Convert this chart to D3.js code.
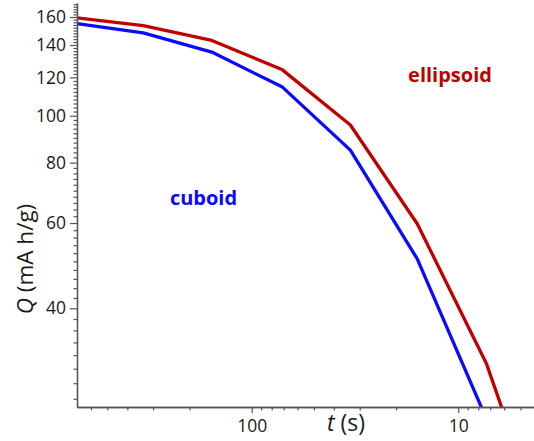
<!DOCTYPE html>
<html>
<head>
<meta charset="utf-8">
<script src="https://cdn.jsdelivr.net/npm/d3@7"></script>
<style>
  body { margin: 0; background: #fff; }
  text { font-family: "Open Sans", sans-serif; }
</style>
</head>
<body>
<div id="chart"></div>
<script>
// discharge time t (s), shared by both series
const times = [701, 335, 156, 71, 33.3, 15.8, 7.3, 3.6];
const ellipsoidQ = [159.3, 153.6, 143.1, 124.4, 95.7, 59.8, 30.7, 12.9];
const cuboidQ = [155.0, 148.3, 135.4, 114.6, 84.9, 50.6, 23.6];

const yTickLabels = [40, 60, 80, 100, 120, 140, 160];
const yMinorTicks = d3.range(26, 172, 2).filter(v => !yTickLabels.includes(v));
const xTickLabels = [100, 10];
const xMinorTicks = [600, 500, 400, 300, 200, 90, 80, 70, 60, 50, 40, 30, 20, 9, 8, 7, 6, 5];

const width = 534;
const height = 441;
const plot = { left: 77, right: 534, top: 3, bottom: 407 };

const redColor = "#c00000";
const blueColor = "#0a0aff";
const axisColor = "#555";

const xScale = d3.scaleLog().domain([701, 4.3]).range([plot.left, plot.right]);
const yScale = d3.scaleLog().domain([25, 171]).range([plot.bottom, plot.top]);

const svg = d3.select("#chart")
    .append("svg")
    .attr("width", width)
    .attr("height", height);

svg.append("clipPath")
    .attr("id", "plot-clip")
    .append("rect")
    .attr("x", plot.left)
    .attr("y", plot.top)
    .attr("width", plot.right - plot.left)
    .attr("height", plot.bottom - plot.top);

const series = [
    { name: "ellipsoid", color: redColor, values: ellipsoidQ },
    { name: "cuboid", color: blueColor, values: cuboidQ }
];

const line = d3.line()
    .x(d => xScale(d.t))
    .y(d => yScale(d.q));

svg.append("g")
    .attr("clip-path", "url(#plot-clip)")
    .selectAll("path")
    .data(series)
    .join("path")
    .attr("fill", "none")
    .attr("stroke", d => d.color)
    .attr("stroke-width", 3.3)
    .attr("stroke-linejoin", "round")
    .attr("d", d => line(d.values.map((q, i) => ({ t: times[i], q }))));

// minor ticks first, then the labelled axes on top
const styleAxis = (g) => {
    g.select(".domain").attr("stroke", axisColor).attr("stroke-width", 1.3);
    g.selectAll(".tick line").attr("stroke", axisColor).attr("stroke-width", 1.2);
    g.selectAll(".tick text")
        .attr("fill", "#1a1a1a")
        .style("font-size", "17.5px")
        .style("font-family", "'Open Sans', sans-serif");
};

svg.append("g")
    .attr("transform", `translate(${plot.left}, 0)`)
    .call(d3.axisLeft(yScale).tickValues(yMinorTicks).tickSize(3.5).tickSizeOuter(0).tickFormat(""))
    .call(styleAxis);

svg.append("g")
    .attr("transform", `translate(0, ${plot.bottom})`)
    .call(d3.axisBottom(xScale).tickValues(xMinorTicks).tickSize(3.5).tickSizeOuter(0).tickFormat(""))
    .call(styleAxis);

svg.append("g")
    .attr("class", "y-axis")
    .attr("transform", `translate(${plot.left}, 0)`)
    .call(d3.axisLeft(yScale).tickValues(yTickLabels).tickSize(7).tickSizeOuter(0).tickPadding(4).tickFormat(d3.format("d")))
    .call(styleAxis);

svg.append("g")
    .attr("class", "x-axis")
    .attr("transform", `translate(0, ${plot.bottom})`)
    .call(d3.axisBottom(xScale).tickValues(xTickLabels).tickSize(6).tickSizeOuter(0).tickPadding(7).tickFormat(d3.format("d")))
    .call(styleAxis);

// axis titles
const xTitle = svg.append("text")
    .attr("x", 346)
    .attr("y", 431)
    .attr("text-anchor", "middle")
    .attr("fill", "#1a1a1a")
    .style("font-size", "23px");
xTitle.append("tspan").style("font-style", "italic").text("t");
xTitle.append("tspan").text(" (s)");

const yTitle = svg.append("text")
    .attr("transform", "translate(33, 259) rotate(-90)")
    .attr("text-anchor", "middle")
    .attr("fill", "#1a1a1a")
    .style("font-size", "22.5px");
yTitle.append("tspan").style("font-style", "italic").text("Q");
yTitle.append("tspan").text(" (mA h/g)");

// series labels
svg.selectAll(".series-label")
    .data([
        { text: "ellipsoid", color: redColor, x: 450, y: 82 },
        { text: "cuboid", color: blueColor, x: 203.5, y: 205 }
    ])
    .join("text")
    .attr("class", "series-label")
    .attr("x", d => d.x)
    .attr("y", d => d.y)
    .attr("text-anchor", "middle")
    .attr("fill", d => d.color)
    .style("font-size", "20px")
    .style("font-weight", "bold")
    .text(d => d.text);
</script>
</body>
</html>
